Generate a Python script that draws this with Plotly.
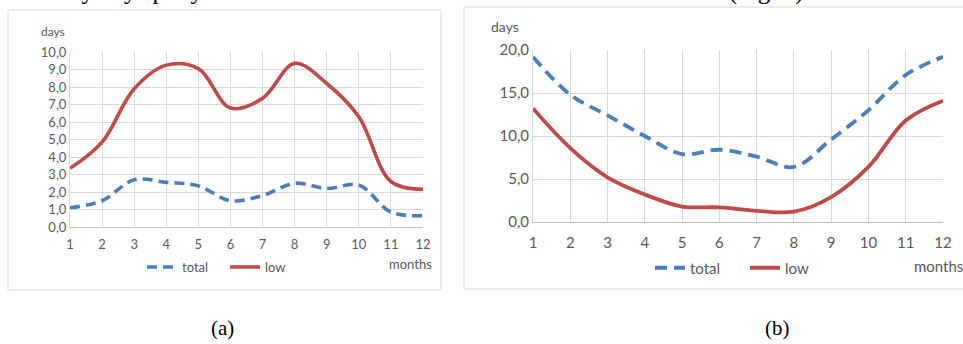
import plotly.graph_objects as go

months = list(range(1, 13))
month_labels = [str(m) for m in months]

# (a)
a_total = [1.1, 1.5, 2.7, 2.55, 2.35, 1.5, 1.8, 2.5, 2.2, 2.4, 0.85, 0.65]
a_low = [3.35, 4.85, 7.9, 9.25, 9.05, 6.8, 7.35, 9.35, 8.2, 6.3, 2.6, 2.15]
a_yticks = [0, 1, 2, 3, 4, 5, 6, 7, 8, 9, 10]

# (b)
b_total = [19.2, 14.8, 12.4, 10.0, 7.9, 8.4, 7.6, 6.4, 9.6, 13.0, 17.1, 19.2]
b_low = [13.2, 8.6, 5.2, 3.2, 1.8, 1.7, 1.3, 1.2, 2.9, 6.4, 11.8, 14.1]
b_yticks = [0, 5, 10, 15, 20]

series_names = ["total", "low"]
BLUE = "#4A7EBB"
RED = "#BE4B48"
GRAY_TXT = "#595959"
GRID = "#D9D9D9"
FONT = "Lato, 'Open Sans', sans-serif"
SERIF = "'Liberation Serif', 'DejaVu Serif', serif"

W, H = 963, 344


def px_x(p):
    return p / W


def px_y(p):
    return 1 - p / H


fig = go.Figure()

# (a) traces
fig.add_trace(go.Scatter(x=months, y=a_total, name=series_names[0], mode="lines",
                         line=dict(color=BLUE, width=3.6, dash="10px,6px", shape="spline", smoothing=1),
                         xaxis="x", yaxis="y", legend="legend"))
fig.add_trace(go.Scatter(x=months, y=a_low, name=series_names[1], mode="lines",
                         line=dict(color=RED, width=3.6, shape="spline", smoothing=1),
                         xaxis="x", yaxis="y", legend="legend"))
# (b) traces
fig.add_trace(go.Scatter(x=months, y=b_total, name=series_names[0], mode="lines",
                         line=dict(color=BLUE, width=3.8, dash="12px,7px", shape="spline", smoothing=1),
                         xaxis="x2", yaxis="y2", legend="legend2"))
fig.add_trace(go.Scatter(x=months, y=b_low, name=series_names[1], mode="lines",
                         line=dict(color=RED, width=3.8, shape="spline", smoothing=1),
                         xaxis="x2", yaxis="y2", legend="legend2"))

xcommon = dict(range=[1, 12], tickmode="array", tickvals=months, ticktext=month_labels,
               showgrid=True, gridcolor=GRID, gridwidth=1, zeroline=False,
               showline=True, linecolor="#BFBFBF", linewidth=1,
               ticks="outside", tickcolor="rgba(0,0,0,0)", automargin=False)
ycommon = dict(showgrid=True, gridcolor=GRID, gridwidth=1, zeroline=False,
               showline=True, linecolor=GRID, linewidth=1, tickformat=".1f",
               tickmode="array", automargin=False)

fig.update_layout(
    width=W, height=H, autosize=False,
    margin=dict(l=0, r=0, t=0, b=0, pad=0, autoexpand=False),
    paper_bgcolor="white", plot_bgcolor="white",
    separators=",.",
    font=dict(family=FONT, color=GRAY_TXT),
    xaxis=dict(domain=[px_x(70), px_x(423)], anchor="y", ticklen=5,
               tickfont=dict(size=13, color=GRAY_TXT), **xcommon),
    yaxis=dict(domain=[px_y(227), px_y(52)], anchor="x", range=[0, 10], tickvals=a_yticks,
               tickfont=dict(size=13, color=GRAY_TXT), **ycommon),
    xaxis2=dict(domain=[px_x(533), px_x(943)], anchor="y2", ticklen=7,
                tickfont=dict(size=15, color=GRAY_TXT), **xcommon),
    yaxis2=dict(domain=[px_y(222), px_y(50)], anchor="x2", range=[0, 20], tickvals=b_yticks,
                tickfont=dict(size=15, color=GRAY_TXT), **ycommon),
    legend=dict(orientation="h", x=px_x(142), xanchor="left", y=px_y(267), yanchor="middle",
                font=dict(size=13, color=GRAY_TXT), bgcolor="rgba(0,0,0,0)",
                entrywidth=38, itemwidth=30, tracegroupgap=0),
    legend2=dict(orientation="h", x=px_x(650), xanchor="left", y=px_y(268), yanchor="middle",
                 font=dict(size=15, color=GRAY_TXT), bgcolor="rgba(0,0,0,0)",
                 entrywidth=50, itemwidth=30, tracegroupgap=0),
    showlegend=True,
)

shapes = [
    dict(type="rect", xref="paper", yref="paper", x0=px_x(8), x1=px_x(441), y0=px_y(290), y1=px_y(10),
         line=dict(color=GRID, width=1), layer="below"),
    dict(type="rect", xref="paper", yref="paper", x0=px_x(464), x1=px_x(975), y0=px_y(289), y1=px_y(7),
         line=dict(color=GRID, width=1), layer="below"),
]
fig.update_layout(shapes=shapes)

annotations = [
    dict(text="days", x=px_x(53), y=px_y(32), xref="paper", yref="paper", showarrow=False,
         font=dict(size=12, color=GRAY_TXT, family=FONT), xanchor="center", yanchor="middle"),
    dict(text="days", x=px_x(505), y=px_y(26), xref="paper", yref="paper", showarrow=False,
         font=dict(size=14, color=GRAY_TXT, family=FONT), xanchor="center", yanchor="middle"),
    dict(text="months", x=px_x(434), y=px_y(264), xref="paper", yref="paper", showarrow=False,
         font=dict(size=13, color=GRAY_TXT, family=FONT), xanchor="right", yanchor="middle"),
    dict(text="months", x=px_x(912), y=px_y(266), xref="paper", yref="paper", showarrow=False,
         font=dict(size=15, color=GRAY_TXT, family=FONT), xanchor="left", yanchor="middle"),
    dict(text="(a)", x=px_x(222), y=px_y(328), xref="paper", yref="paper", showarrow=False,
         font=dict(size=21, color="black", family=SERIF),
         xanchor="center", yanchor="middle"),
    dict(text="(b)", x=px_x(777), y=px_y(328), xref="paper", yref="paper", showarrow=False,
         font=dict(size=21, color="black", family=SERIF),
         xanchor="center", yanchor="middle"),
    dict(text="of cloudy days per year follows the annual course of the total cloudiness (Fig. 7).",
         x=px_x(-3), y=px_y(-9), xref="paper", yref="paper", showarrow=False,
         font=dict(size=25, color="black", family=SERIF),
         xanchor="left", yanchor="middle"),
]
fig.update_layout(annotations=annotations)

fig.write_html("out.html",
               config={"displayModeBar": False},
               post_script="document.body.style.margin='0px';document.body.style.overflow='hidden';")
